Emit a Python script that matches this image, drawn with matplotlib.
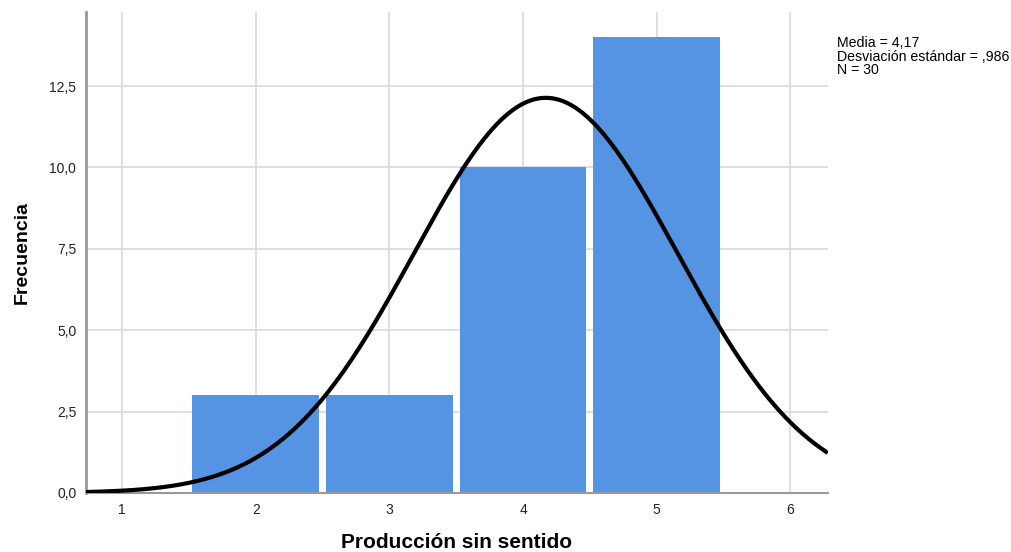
import matplotlib.pyplot as plt
import numpy as np

plt.rcParams['font.family'] = ['Liberation Sans', 'DejaVu Sans']

# data
bin_centers = [2, 3, 4, 5]
counts = [3, 3, 10, 14]
media = 4.17
desv = 0.986
n = 30
xticks = [1, 2, 3, 4, 5, 6]
yticks = [0, 2.5, 5.0, 7.5, 10.0, 12.5]

fig = plt.figure(figsize=(10.12, 5.52), dpi=100)
ax = fig.add_axes([0.085, 0.107, 0.733, 0.871])

ax.bar(bin_centers, counts, width=0.948, color='#5594e3', linewidth=0, zorder=2)

# normal curve from the reported mean/sd
xs = np.linspace(0.73, 6.28, 400)
ys = n * 1.0 / (desv * np.sqrt(2 * np.pi)) * np.exp(-0.5 * ((xs - media) / desv) ** 2)
ax.plot(xs, ys, color='black', linewidth=3, zorder=3, solid_capstyle='butt')

ax.set_xlim(0.73, 6.28)
ax.set_ylim(0, 14.77)
ax.set_xticks(xticks)
ax.set_yticks(yticks)
ax.set_yticklabels([('%.1f' % v).replace('.', ',') for v in yticks])
ax.tick_params(length=0, labelsize=10, pad=7, colors='#222222')
ax.grid(True, color='#d9d9d9', linewidth=1.2, zorder=0)
ax.set_axisbelow(True)

for s in ['top', 'right']:
    ax.spines[s].set_visible(False)
ax.spines['left'].set_color('#999999')
ax.spines['left'].set_linewidth(2)
ax.spines['bottom'].set_color('#999999')
ax.spines['bottom'].set_linewidth(1.5)

ax.set_xlabel('Producción sin sentido', fontsize=15, fontweight='bold', labelpad=12)
ax.set_ylabel('Frecuencia', fontsize=14, fontweight='bold', labelpad=13)

fig.text(0.827, 0.935, 'Media = 4,17\nDesviación estándar = ,986\nN = 30',
         fontsize=10.2, va='top', ha='left', linespacing=0.97)

fig.savefig('out.png', dpi=100)
